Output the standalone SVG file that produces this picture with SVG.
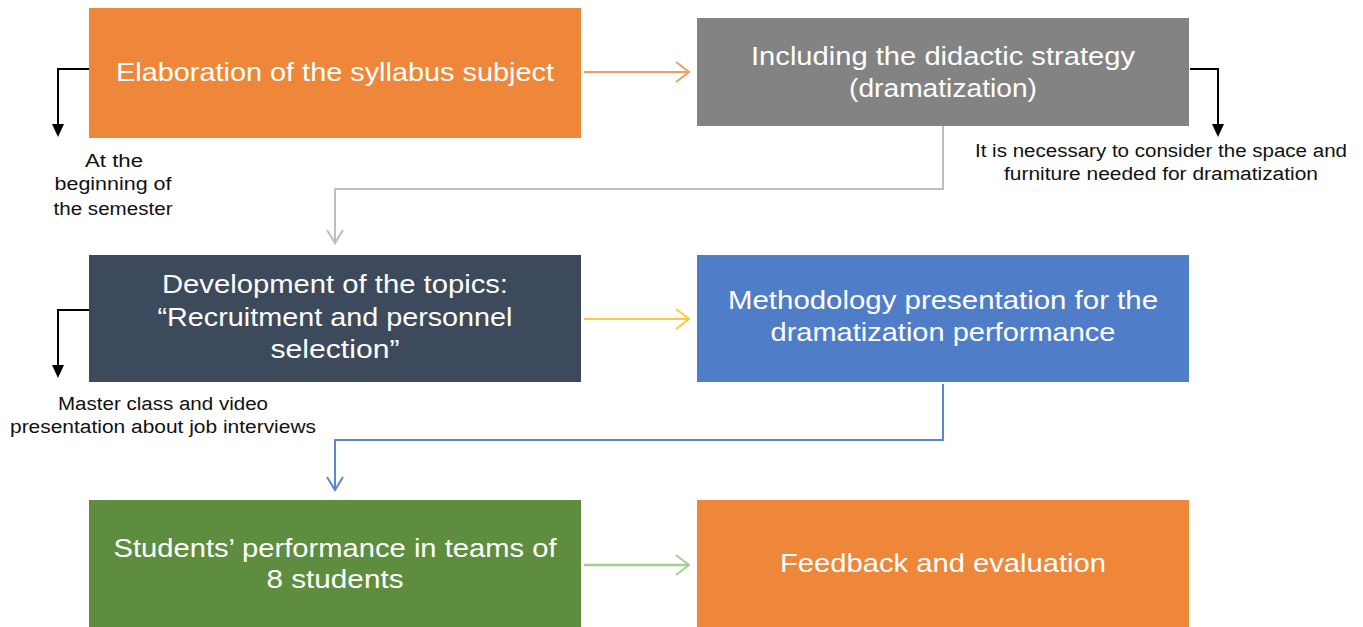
<svg xmlns="http://www.w3.org/2000/svg" width="1363" height="627" viewBox="0 0 1363 627">
<style>
.box text{fill:#fff;font-family:"Liberation Sans",Arial,sans-serif;font-size:26px;text-anchor:middle}
.lbl{fill:#111;font-family:"Liberation Sans",Arial,sans-serif;font-size:18px;text-anchor:middle}
.c{fill:none}
</style>
<rect width="1363" height="627" fill="#fff"/>
<g id="connectors">
  <path class="c" d="M89,69 H58 V126" stroke="#000" stroke-width="2"/>
  <path d="M52,124 L64,124 L58,137 Z" fill="#000"/>
  <path class="c" d="M1190,69 H1218 V126" stroke="#000" stroke-width="2"/>
  <path d="M1212,124 L1224,124 L1218,137 Z" fill="#000"/>
  <path class="c" d="M89,310 H58 V367" stroke="#000" stroke-width="2"/>
  <path d="M52,365 L64,365 L58,378 Z" fill="#000"/>
  <path class="c" d="M584,72 H689" stroke="#F29A66" stroke-width="2"/>
  <path class="c" d="M676,62 L689,72 L676,82" stroke="#F29A66" stroke-width="2"/>
  <path class="c" d="M943,126 V189 H335 V243" stroke="#BDBDBD" stroke-width="2"/>
  <path class="c" d="M327,230 L335,243 L343,230" stroke="#BDBDBD" stroke-width="2"/>
  <path class="c" d="M584,319 H689" stroke="#FFC83D" stroke-width="2"/>
  <path class="c" d="M676,309 L689,319 L676,329" stroke="#FFC83D" stroke-width="2"/>
  <path class="c" d="M943,384 V440 H335 V490" stroke="#5B87D2" stroke-width="2"/>
  <path class="c" d="M327,477 L335,490 L343,477" stroke="#5B87D2" stroke-width="2"/>
  <path class="c" d="M584,565 H689" stroke="#A6CF90" stroke-width="2.5"/>
  <path class="c" d="M676,555 L689,565 L676,575" stroke="#A6CF90" stroke-width="2"/>
</g>
<g id="n1" class="box">
  <rect x="89" y="8" width="492" height="130" fill="#EE873A"/>
  <text x="335" y="81" textLength="438" lengthAdjust="spacingAndGlyphs">Elaboration of the syllabus subject</text>
</g>
<g id="n2" class="box">
  <rect x="697" y="18" width="492" height="108" fill="#838383"/>
  <text x="943" y="65" textLength="384" lengthAdjust="spacingAndGlyphs">Including the didactic strategy</text>
  <text x="943" y="97" textLength="188" lengthAdjust="spacingAndGlyphs">(dramatization)</text>
</g>
<g id="n3" class="box">
  <rect x="89" y="255" width="492" height="127" fill="#3D4A5B"/>
  <text x="335" y="293" textLength="346" lengthAdjust="spacingAndGlyphs">Development of the topics:</text>
  <text x="335" y="326" textLength="355" lengthAdjust="spacingAndGlyphs">“Recruitment and personnel</text>
  <text x="335" y="358" textLength="129" lengthAdjust="spacingAndGlyphs">selection”</text>
</g>
<g id="n4" class="box">
  <rect x="697" y="255" width="492" height="127" fill="#4F7DC8"/>
  <text x="943" y="309" textLength="430" lengthAdjust="spacingAndGlyphs">Methodology presentation for the</text>
  <text x="943" y="341" textLength="345" lengthAdjust="spacingAndGlyphs">dramatization performance</text>
</g>
<g id="n5" class="box">
  <rect x="89" y="500" width="492" height="127" fill="#5F8D3F"/>
  <text x="335" y="557" textLength="443" lengthAdjust="spacingAndGlyphs">Students’ performance in teams of</text>
  <text x="335" y="588" textLength="137" lengthAdjust="spacingAndGlyphs">8 students</text>
</g>
<g id="n6" class="box">
  <rect x="697" y="500" width="492" height="127" fill="#EE873A"/>
  <text x="943" y="572" textLength="326" lengthAdjust="spacingAndGlyphs">Feedback and evaluation</text>
</g>
<g id="labels">
  <text class="lbl" x="114" y="167" textLength="58" lengthAdjust="spacingAndGlyphs">At the</text>
  <text class="lbl" x="113" y="190" textLength="117" lengthAdjust="spacingAndGlyphs">beginning of</text>
  <text class="lbl" x="113" y="215" textLength="119" lengthAdjust="spacingAndGlyphs">the semester</text>
  <text class="lbl" x="1161" y="157" textLength="372" lengthAdjust="spacingAndGlyphs">It is necessary to consider the space and</text>
  <text class="lbl" x="1161" y="180" textLength="314" lengthAdjust="spacingAndGlyphs">furniture needed for dramatization</text>
  <text class="lbl" x="163" y="410" textLength="210" lengthAdjust="spacingAndGlyphs">Master class and video</text>
  <text class="lbl" x="163" y="433" textLength="306" lengthAdjust="spacingAndGlyphs">presentation about job interviews</text>
</g>
</svg>
